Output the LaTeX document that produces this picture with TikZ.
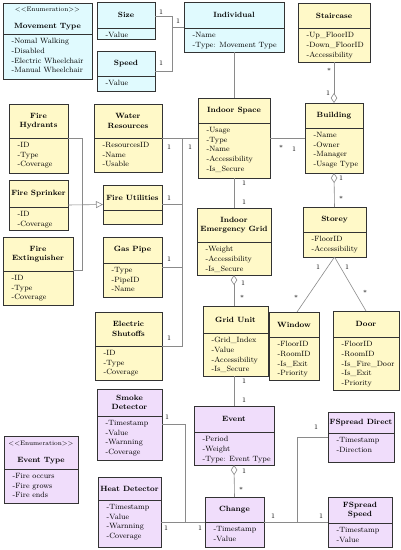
\documentclass[tikz,border=0pt]{standalone}
\usetikzlibrary{arrows.meta}
\definecolor{cy}{HTML}{E0FAFE}
\definecolor{ye}{HTML}{FFF9C8}
\definecolor{pu}{HTML}{F0DDFB}
\definecolor{frame}{HTML}{333333}
\definecolor{wire}{HTML}{8A8A8A}
\tikzset{
 boxframe/.style={draw=frame, line width=0.8pt, inner sep=0pt, outer sep=0pt, anchor=north west},
 ttl/.style={font=\fontsize{7.6}{9.5}\selectfont\bfseries, align=center, inner sep=0pt},
 att/.style={font=\fontsize{7.6}{9.8}\selectfont, align=left, anchor=north west, inner sep=0pt},
 conn/.style={draw=wire, line width=0.6pt},
 mult/.style={font=\fontsize{7}{8}\selectfont, inner sep=0pt},
 agg/.style={-{Diamond[open,length=10pt,width=6.5pt]}},
 gen/.style={-{Triangle[open,length=7pt,width=7pt]}},
}
\newcommand\umlcls[9]{%
 \node[boxframe, fill=#7, minimum width={(#4-#2)*1pt}, minimum height={(#6-#3)*1pt}] (#1) at (#2,#3) {};
 \draw[draw=frame, line width=0.8pt] (#2,#5) -- (#4,#5);
 \node[ttl] (#1-t) at ({(#2+#4)/2},{(#3+#5)/2}) {#8};
 \node[att] (#1-a) at ({#2+8.5},{#5+4}) {#9};
}
\newcommand\enumhead[1]{{\fontsize{6.5}{7}\selectfont\mdseries <{}<Enumeration>{}>}\\[7pt]#1}
\begin{document}
\begin{tikzpicture}[x=1pt,y=-1pt]
\useasboundingbox (0,0) rectangle (401,550);
\fill[white] (0,0) rectangle (401,550);
% ---- classes
\umlcls{mt}{3}{3}{92}{34}{79}{cy}{\enumhead{Movement Type}}{-Nomal Walking\\-Disabled\\-Electric Wheelchair\\-Manual Wheelchair}
\umlcls{size}{97}{2}{155}{28}{39}{cy}{Size}{-Value}
\umlcls{speed}{97}{51}{155}{76}{91}{cy}{Speed}{-Value}
\umlcls{ind}{184}{2}{284}{28}{52}{cy}{Individual}{-Name\\-Type: Movement Type}
\umlcls{stair}{298}{3}{370}{28}{62}{ye}{Staircase}{-Up\_FloorID\\-Down\_FloorID\\-Accessibility}
\umlcls{isp}{198}{98}{270}{123}{178}{ye}{Indoor Space}{-Usage\\-Type\\-Name\\-Accessibility\\-Is\_Secure}
\umlcls{bld}{305}{103}{363}{128}{173}{ye}{Building}{-Name\\-Owner\\-Manager\\-Usage Type}
\umlcls{storey}{303}{207}{366}{232}{257}{ye}{Storey}{-FloorID\\-Accessibility}
\umlcls{ieg}{197}{208}{271}{242}{275}{ye}{Indoor\\Emergency Grid}{-Weight\\-Accessibility\\-Is\_Secure}
\umlcls{gu}{203}{306}{268}{333}{376}{ye}{Grid Unit}{-Grid\_Index\\-Value\\-Accessibility\\-Is\_Secure}
\umlcls{window}{269}{312}{319}{337}{380}{ye}{Window}{-FloorID\\-RoomID\\-Is\_Exit\\-Priority}
\umlcls{door}{333}{311}{399}{337}{390}{ye}{Door}{-FloorID\\-RoomID\\-Is\_Fire\_Door\\-Is\_Exit\\-Priority}
\umlcls{fh}{9}{104}{68}{138}{173}{ye}{Fire\\Hydrants}{-ID\\-Type\\-Coverage}
\umlcls{wr}{94}{104}{162}{138}{172}{ye}{Water\\Resources}{-ResourcesID\\-Name\\-Usable}
\umlcls{fs}{9}{180}{68}{207}{230}{ye}{Fire Sprinker}{-ID\\-Coverage}
\umlcls{fu}{103}{185}{162}{210}{224}{ye}{Fire Utilities}{}
\umlcls{fe}{3}{237}{73}{271}{305}{ye}{Fire\\Extinguisher}{-ID\\-Type\\-Coverage}
\umlcls{gp}{103}{237}{162}{263}{297}{ye}{Gas Pipe}{-Type\\-PipeID\\-Name}
\umlcls{es}{95}{312}{162}{346}{380}{ye}{Electric\\Shutoffs}{-ID\\-Type\\-Coverage}
\umlcls{sd}{97}{389}{162}{416}{460}{pu}{Smoke\\Detector}{-Timestamp\\-Value\\-Warnning\\-Coverage}
\umlcls{hd}{98}{477}{161}{500}{547}{pu}{Heat Detector}{-Timestamp\\-Value\\-Warnning\\-Coverage}
\umlcls{et}{4}{436}{78}{469}{503}{pu}{\enumhead{Event Type}}{-Fire occurs\\-Fire grows\\-Fire ends}
\umlcls{ev}{194}{406}{274}{432}{465}{pu}{Event}{-Period\\-Weight\\-Type: Event Type}
\umlcls{ch}{205}{497}{264}{522}{547}{pu}{Change}{-Timestamp\\-Value}
\umlcls{fsd}{328}{412}{394}{433}{462}{pu}{FSpread Direct}{-Timestamp\\-Direction}
\umlcls{fss}{328}{497}{392}{523}{547}{pu}{FSpread\\Speed}{-Timestamp\\-Value}
% ---- junctions
\coordinate (j1) at (172,27);
\coordinate (j3) at (185,522);
\coordinate (j4) at (297,522);
\coordinate (j5a) at (82,138);
\coordinate (j5b) at (82,270);
\coordinate (j6a) at (182,138);
\coordinate (j6b) at (182,346);
% ---- connectors
\draw[conn] (size.east |- 0,16) -| (j1);
\draw[conn] (speed.east |- 0,71) -| (j1);
\draw[conn] (j1) -- (ind.west |- j1);
\draw[conn] (ind.south) -- (isp.north);
\draw[conn, agg] (stair.south) -- (bld.north);
\draw[conn] (isp.east) -- (bld.west);
\draw[conn, agg] (storey.north) -- (bld.south);
\draw[conn] (storey.south) -- ([xshift=3pt]window.north);
\draw[conn] (storey.south) -- (door.north);
\draw[conn] (isp.south) -- (ieg.north);
\draw[conn, agg] (ieg.south |- gu.north) -- (ieg.south);
\draw[conn] (ev.north |- gu.south) -- (ev.north);
\draw[conn, agg] (ch.north) -- (ev.north |- ev.south);
\draw[conn] (ch.east) -- (fss.west);
\draw[conn] (j4) |- (fsd.west);
\draw[conn] (sd.east |- 0,424) -| (j3);
\draw[conn] (hd.east |- j3) -- (ch.west);
\draw[conn] (fh.east |- j5a) -- (j5a) -- (j5b) -- (fe.east |- j5b);
\draw[conn, gen] (fs.east) -- (fu.west);
\draw[conn] (wr.east |- j6a) -- (isp.west |- j6a);
\draw[conn] (j6a) -- (j6b) -- (es.east |- j6b);
\draw[conn] (fu.east) -- (fu.east -| j6a);
\draw[conn] (gp.east) -- (gp.east -| j6a);
% ---- multiplicities
\node[mult] (m1) at (161,12) {1};
\node[mult] (m2) at (161,63) {1};
\node[mult] (m3) at (178,21) {1};
\node[mult] (m4) at (329,71) {*};
\node[mult] (m5) at (328,93) {1};
\node[mult] (m6) at (281,148) {*};
\node[mult] (m7) at (294,149) {1};
\node[mult] (m8) at (341,178) {1};
\node[mult] (m9) at (341,199) {*};
\node[mult] (m10) at (244,183) {1};
\node[mult] (m11) at (244,202) {1};
\node[mult] (m12) at (318,267) {1};
\node[mult] (m13) at (347,267) {1};
\node[mult] (m14) at (296,298) {*};
\node[mult] (m15) at (365,293) {*};
\node[mult] (m16) at (243,283) {1};
\node[mult] (m17) at (242,298) {*};
\node[mult] (m18) at (244,381) {1};
\node[mult] (m19) at (244,400) {1};
\node[mult] (m20) at (244,471) {1};
\node[mult] (m21) at (241,490) {*};
\node[mult] (m22) at (273,516) {1};
\node[mult] (m23) at (321,516) {1};
\node[mult] (m24) at (316,427) {1};
\node[mult] (m25) at (200,528) {1};
\node[mult] (m26) at (167,417) {1};
\node[mult] (m27) at (166,528) {1};
\node[mult] (m28) at (169,147) {1};
\node[mult] (m29) at (190,147) {1};
\node[mult] (m30) at (169,198) {1};
\node[mult] (m31) at (169,259) {1};
\node[mult] (m32) at (169,338) {1};
\end{tikzpicture}
\end{document}
